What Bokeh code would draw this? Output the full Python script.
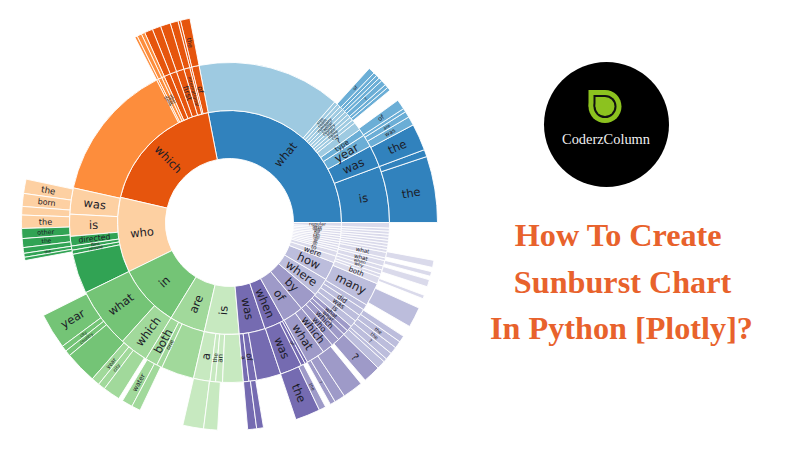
import math
from bokeh.plotting import figure
from bokeh.models import ColumnDataSource
from bokeh.core.properties import value
from bokeh.embed import file_html
from bokeh.resources import INLINE

# ---- data: labels and sizes of each ring, counter-clockwise from east; None label = no text
ring1_labels = ["what", "which", "who", "in", "are", "is", "was", "when", "of", "by", "where", "how",
                "were", "to", "in", "on", "at", "do", "has", "can", "for", "did", "does", "have", "regular"]
ring1_values = [101, 66, 39, 32.5, 18.5, 18, 13.5, 10.5, 11, 10, 9.5, 9.5,
                3.5, 2.5, 1.3, 1.3, 1.3, 1.3, 1.3, 1.3, 1.3, 1.3, 1.3, 1.3, 2]

ring2_labels = ["is", "was", "year", "type", "?", "city", "name", "state", "country", "capital", "company", "team", "size", None,
                "of", None, "international", "first", None, None, "what", "year", "game", None,
                "was", "is", "directed", "film", "movie", None,
                "what", "which", "both", "one", None,
                "a", "the", "an", None,
                "a", "of", None,
                "was", "of", None,
                "what", "which",
                "who", "which", "what", "what",
                "is", "was", "did", None,
                "many",
                "both", None, "why", "when", "what", None, "what",
                None, None, None, None, None, None, None, None, None]
ring2_values = [20.5, 8, 4.5, 2.5, 3, 1.3, 1.3, 1.3, 1.3, 1.3, 1.3, 1.3, 1.3, 52.1,
                2.7, 0.7, 2.2, 2.8, 2.4, 2.3, 1, 1.3, 0.7, 50.4,
                9.5, 8, 3.5, 1.5, 1.5, 14.5,
                22, 10.5, 4.5, 2, 12,
                6, 2, 2.5, 7.5,
                2, 2.8, 8.9,
                8, 1.5, 1,
                6.8, 4,
                3, 2.7, 1.8, 2,
                2.5, 2.5, 2.5, 2,
                8.5,
                2.5, 1.2, 1.5, 1.5, 2, 1, 2,
                1.1, 1.1, 1.1, 1.1, 1.1, 1.1, 1.1, 1.1, 2]

ring3_labels = ["the", None, "the", "was", "are", None, "of", None,
                None, None, "?", None, None, None, "of", None,
                "the", None, None, None, None, None, None, None, None, None,
                "the", "born", None, "the", "other", "the", None, "the", None, None,
                "year", "city", "country", None,
                "year", "city", None, None, "water", None, None,
                None, None, None,
                None, None, None,
                "the", "the", None, "?",
                None, None, None, "?",
                None, None, "?", "the", "the", None, None,
                None, None, None, None, None, None, None, None, None, None]
ring3_values = [18.5, 2, 7.5, 2.5, 1.7, 1, 2.8, 3.5,
                1, 1, 1.5, 1, 1, 1, 1.8, 53.2,
                2.7, 0.7, 2.2, 2.8, 2.4, 2.3, 1, 1.3, 0.7, 50.9,
                4, 3.6, 2.4, 3.7, 2.8, 2.5, 1.6, 1.1, 0.9, 16,
                10, 1.6, 1.6, 9,
                2.3, 2, 4.8, 1.2, 3, 2.5, 12.5,
                5.8, 3.9, 8.3,
                2.5, 1.9, 9.2,
                7, 1.9, 1.5, 1.5,
                3, 5.7, 1.5, 4.9,
                2.4, 1, 2, 2, 2, 1.8, 3.2,
                5.7, 2.8, 1, 2.5, 2, 1, 1.3, 1.2, 2, 8.8, 1.7]

title_lines = ["How To Create", "Sunburst Chart", "In Python [Plotly]?"]
brand_name = "CoderzColumn"

# ---- styles
PAL = dict(B0="#3182bd", B1="#6baed6", B2="#9ecae1", O0="#e6550d", O1="#fd8d3c", O3="#fdd0a2",
           G0="#31a354", G1="#74c476", G2="#a1d99b", G3="#c7e9c0",
           P0="#756bb1", P1="#9e9ac8", P2="#bcbddc", P3="#dadaeb")

ring1_shades = ["B0", "O0", "O3", "G1", "G2", "G3", "P0", "P0", "P1", "P1", "P2", "P2"] + ["P3"] * 13
ring2_shades = (["B0"] * 2 + ["B1"] * 2 + ["B2"] * 10
                + ["O0"] * 6 + ["O1"] * 4
                + ["O3"] * 2 + ["G0"] * 4
                + ["G1"] + ["G2"] * 4
                + ["G3"] * 4
                + ["P0"] * 3 + ["P0"] * 3
                + ["P1"] * 2 + ["P1"] * 4
                + ["P2"] * 4 + ["P2"]
                + ["P3"] * 16)
ring3_shades = (["B0"] * 3 + ["B1"] * 4 + [None]
                + ["B1"] * 7 + [None]
                + ["O0"] * 6 + ["O1"] * 3 + [None]
                + ["O3"] * 4 + ["G0"] * 5 + [None]
                + ["G1"] * 4
                + ["G2"] * 3 + [None] + ["G2"] * 2 + [None]
                + ["G3"] * 2 + [None]
                + ["P0"] * 2 + [None]
                + ["P0"] + ["P1"] + [None] + ["P1"]
                + ["P1"] * 2 + [None] + ["P1"]
                + ["P2"] * 6 + [None]
                + ["P2"] + [None] + ["P3", None, "P3", None, "P3", None, "P3", None, "P3"])

radii = [(64, 112), (112, 160), (160, 208)]
font_gain = [1.2, 1.0, 0.6]

W, H = 784, 434
CX, CY = 229, 222   # sunburst centre in picture pixels
p = figure(width=W, height=H, output_backend="svg", toolbar_location=None,
           x_range=(-CX, W - CX), y_range=(CY - H, CY),
           min_border=0, outline_line_color=None, background_fill_color="white")
p.axis.visible = False
p.grid.visible = False


def draw_ring(labels, values, shades, r0, r1, gain):
    total = sum(values)
    wedge = dict(start=[], end=[], color=[])
    txt = dict(x=[], y=[], text=[], angle=[], fs=[])
    a = 0.0
    for lab, val, sh in zip(labels, values, shades):
        d = val / total * 2 * math.pi
        if sh is not None:
            wedge["start"].append(a)
            wedge["end"].append(a + d)
            wedge["color"].append(PAL[sh])
        if lab:
            mid = a + d / 2
            rm = (r0 + r1) / 2
            arc = d * rm
            size = min(11.5, max(4, gain * arc + 1), 36 / (0.58 * len(lab)))
            rot = mid if not (math.pi / 2 < mid < 3 * math.pi / 2) else mid - math.pi
            txt["x"].append(rm * math.cos(mid))
            txt["y"].append(rm * math.sin(mid))
            txt["text"].append(lab)
            txt["angle"].append(rot)
            txt["fs"].append(f"{size:.1f}px")
        a += d
    p.annular_wedge(x=0, y=0, inner_radius=r0, outer_radius=r1, start_angle="start", end_angle="end",
                    fill_color="color", line_color="white", line_width=0.9,
                    source=ColumnDataSource(wedge))
    return txt


texts = []
for (labs, vals, shs), (r0, r1), g in zip(
        [(ring1_labels, ring1_values, ring1_shades),
         (ring2_labels, ring2_values, ring2_shades),
         (ring3_labels, ring3_values, ring3_shades)], radii, font_gain):
    texts.append(draw_ring(labs, vals, shs, r0, r1, g))
for t in texts:
    p.text(x="x", y="y", text="text", angle="angle", text_font_size="fs", text_color="#1c1c28",
           text_font=value("DejaVu Sans"), text_align="center", text_baseline="middle",
           source=ColumnDataSource(t))


def px(x):
    return x - CX


def py(y):
    return CY - y


# logo: black disc and leaf
p.circle(x=[px(606)], y=[py(124)], radius=62.5, fill_color="black", line_color=None)
for col, r, lx, ly in [("#8cc21f", 16.5, 604.5, 106), ("#101010", 11.5, 604.5, 106), ("#8cc21f", 9.5, 604.5, 106)]:
    p.circle(x=[px(lx)], y=[py(ly)], radius=r, fill_color=col, line_color=None)
    p.quad(left=[px(lx - r)], right=[px(lx)], top=[py(ly - r)], bottom=[py(ly)], fill_color=col, line_color=None)
p.text(x=[px(605.5)], y=[py(138)], text=[brand_name], text_color="#f0f0f0", text_font_size="14.4px",
       text_font=value("Liberation Serif"), text_align="center", text_baseline="alphabetic")

for line, xc, yb in zip(title_lines, [618, 622, 621], [234, 281, 327]):
    p.text(x=[px(xc)], y=[py(yb)], text=[line], text_color="#e8622c", text_font_size="32.2px",
           text_font=value("Liberation Serif"), text_font_style="bold",
           text_align="center", text_baseline="alphabetic")

open("out.html", "w").write(file_html(p, INLINE))
